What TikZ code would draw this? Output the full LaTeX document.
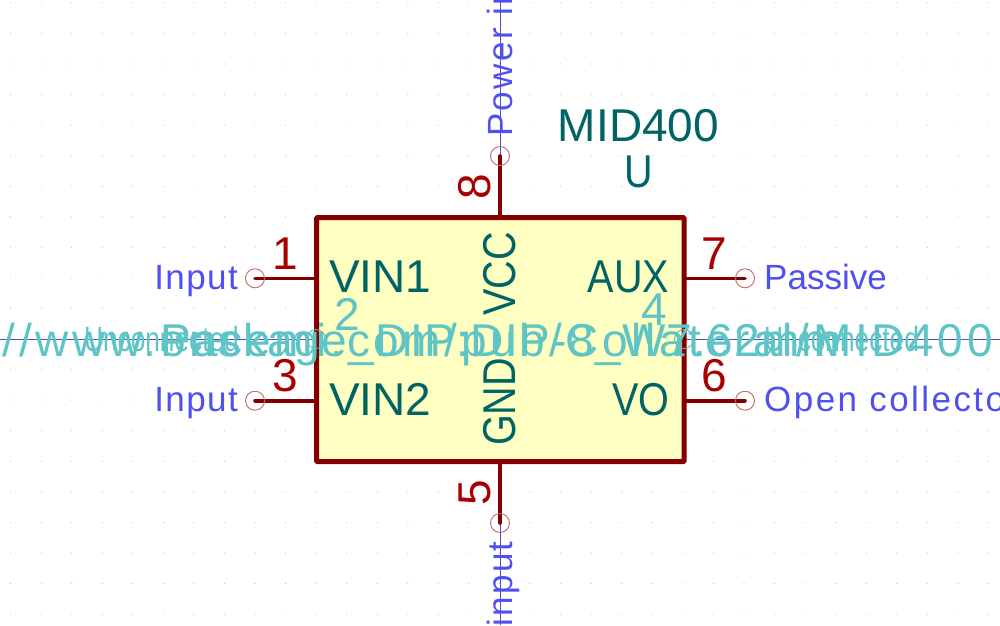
\documentclass[tikz,border=0pt]{standalone}
\usepackage{fontspec}
\setmainfont{Liberation Sans}
\newfontfamily\narrowf[FakeStretch=.86]{Liberation Sans}
\newfontfamily\urlf[LetterSpace=8]{Liberation Sans}
\newfontfamily\pkgf[LetterSpace=3]{Liberation Sans}
\newfontfamily\etypef[LetterSpace=4]{Liberation Sans}
\newfontfamily\spreadf[LetterSpace=7]{Liberation Sans}
\newfontfamily\unconf[FakeStretch=.75]{Liberation Sans}
\definecolor{pinred}{HTML}{840000}
\definecolor{numred}{HTML}{A80000}
\definecolor{teal}{HTML}{006464}
\definecolor{etype}{HTML}{5050F0}
\definecolor{hid}{HTML}{5FC4C6}
\definecolor{body}{HTML}{FFFFC2}
\definecolor{circ}{HTML}{C06A6A}
\definecolor{griddot}{HTML}{C4C4C4}
\definecolor{wire}{HTML}{5050C0}
\tikzset{
 x=1pt,y=-1pt,
 pinline/.style={draw=pinred,line width=3.6pt,line cap=round},
 endc/.style={circle,draw=circ,line width=.9pt,minimum size=19pt,inner sep=0pt},
 endh/.style={circle,draw=hid!70!gray,line width=.9pt,minimum size=19pt,inner sep=0pt},
 nc/.style={draw=wire,line width=.9pt},
 pnum/.style={text=numred,font=\fontsize{46}{46}\selectfont,inner sep=0pt},
 pname/.style={text=teal,font=\fontsize{46}{46}\selectfont,inner sep=0pt},
 pnamen/.style={text=teal,font=\narrowf\fontsize{46}{46}\selectfont,inner sep=0pt},
 etypel/.style={text=etype,font=\etypef\fontsize{35}{35}\selectfont,inner sep=0pt},
 etypep/.style={text=etype,font=\fontsize{35}{35}\selectfont,inner sep=0pt},
 etypew/.style={text=etype,font=\spreadf\fontsize{35}{35}\selectfont,inner sep=0pt},
 hidden/.style={text=hid,font=\fontsize{46}{46}\selectfont,inner sep=0pt},
 hiddenu/.style={text=hid,font=\urlf\fontsize{46}{46}\selectfont,inner sep=0pt},
 hiddenp/.style={text=hid,font=\pkgf\fontsize{46}{46}\selectfont,inner sep=0pt},
 hiddens/.style={text=hid,font=\unconf\fontsize{35}{35}\selectfont,inner sep=0pt},
}
\begin{document}
\begin{tikzpicture}
\useasboundingbox (0,0) rectangle (1000,625);
\fill[white] (0,0) rectangle (1000,625);
\foreach \i in {-16,...,16}\foreach \j in {-11,...,10}
 \fill[griddot] ({499.5+\i*30.56},{339+\j*30.56}) circle (.6);
\coordinate (lu) at (255,278.3); \coordinate (ll) at (255,400.7);
\coordinate (ru) at (745,278.3); \coordinate (rl) at (745,400.7);
\coordinate (tp) at (500,156); \coordinate (bp) at (500,523);
\coordinate (lm) at (316,339); \coordinate (rm) at (684,339);
\coordinate (L) at (0,339); \coordinate (R) at (1000,339);
\coordinate (T) at (500,0); \coordinate (B) at (500,625);
\draw[nc] (L) -- (lm); \draw[nc] (rm) -- (R);
\draw[nc] (T) -- (tp); \draw[nc] (bp) -- (B);
\node[draw=pinred,fill=body,line width=5pt,rounded corners=1pt,minimum width=367.3pt,minimum height=244.2pt,inner sep=0pt,outer sep=0pt] (box) at (500.35,339.6) {};
\draw[pinline] (lu) -- (lu-|box.west);
\draw[pinline] (ll) -- (ll-|box.west);
\draw[pinline] (ru) -- (ru-|box.east);
\draw[pinline] (rl) -- (rl-|box.east);
\draw[pinline] (tp) -- (tp|-box.north);
\draw[pinline] (bp) -- (bp|-box.south);
\foreach \c in {lu,ll,ru,rl,tp,bp} \node[endc] at (\c) {};
\foreach \c in {lm,rm} \node[endh] at (\c) {};
\node[pnum] (n1) at (285.5,253.5) {1};
\node[pnum] (n3) at (285,375.5) {3};
\node[pnum] (n7) at (714.5,253.5) {7};
\node[pnum] (n6) at (714.5,375.5) {6};
\node[pnum,rotate=90] (n8) at (475,187) {8};
\node[pnum,rotate=90] (n5) at (475,493) {5};
\node[pname,anchor=west] (vin1) at (329,276.7) {VIN1};
\node[pname,anchor=west] (vin2) at (329,399.5) {VIN2};
\node[pnamen,anchor=east] (aux) at (669.5,276.7) {AUX};
\node[pnamen,anchor=east] (vo) at (669.5,399.5) {VO};
\node[pnamen,rotate=90,anchor=east] (vcc) at (499.5,232) {VCC};
\node[pnamen,rotate=90,anchor=west] (gnd) at (499.5,446) {GND};
\node[pname,anchor=base] (mid) at (638.5,141) {MID400};
\node[pnamen,anchor=base] (u) at (638.5,187) {U};
\node[etypel,anchor=base east] (i1) at (238,289.5) {Input};
\node[etypel,anchor=base east] (i2) at (238,411.7) {Input};
\node[etypep,anchor=base west] (pa) at (764,289.5) {Passive};
\node[etypew,anchor=base west] (oc) at (764,411.7) {Open collector};
\node[etypew,rotate=90,anchor=base west] (pw) at (512,137) {Power input};
\node[etypew,rotate=90,anchor=base east] (pi) at (512,541) {Power input};
\node[hidden] (n2) at (347,314) {2};
\node[hidden] (n4) at (654,310) {4};
\node[hiddens,anchor=base east] (nc1) at (239,351.5) {Unconnected};
\node[hiddens,anchor=base west] (nc2) at (764,351.5) {Unconnected};
\node[hiddenp,anchor=base] (fp) at (500,356) {Package\_DIP:DIP-8\_W7.62mm};
\node[hiddenu,anchor=base east] (ds) at (993,356) {https://www.onsemi.com/pub/Collateral/MID400};
\end{tikzpicture}
\end{document}
